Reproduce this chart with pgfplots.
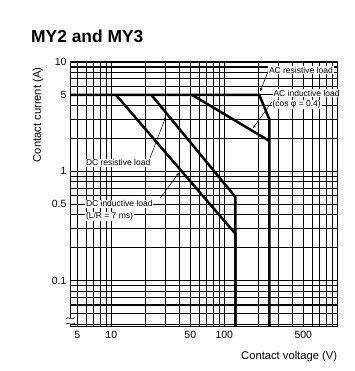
\documentclass[border=0pt]{standalone}
\usepackage{fontspec}
\setmainfont{Liberation Sans}
\usepackage{pgfplots}
\pgfplotsset{compat=1.18}
\usetikzlibrary{arrows.meta}

\begin{document}
\begin{tikzpicture}[x=1pt,y=1pt]
\path[use as bounding box] (0,0) rectangle (354,371);
\begin{axis}[
  at={(70.7pt,44.3pt)}, anchor=south west,
  scale only axis, width=266.6pt, height=264.7pt,
  xmode=log, ymode=log,
  xmin=4.37, xmax=1000, ymin=0.038, ymax=10,
  xtick={5,10,50,100,500}, xticklabels={5,10,50,100,500},
  ytick={0.1,0.5,1,5,10}, yticklabels={0.1,0.5,1,5,10},
  minor xtick={6,7,8,9,20,30,40,60,70,80,90,200,300,400,600,700,800,900},
  minor ytick={0.04,0.05,0.06,0.07,0.08,0.09,0.2,0.3,0.4,0.6,0.7,0.8,0.9,2,3,4,6,7,8,9},
  grid=both,
  major grid style={black, line width=1.05pt},
  minor grid style={black, line width=1.05pt},
  axis line style={black, line width=1.2pt},
  major tick length=0pt, minor tick length=0pt,
  tick style={draw=none},
  tick label style={font=\fontsize{10.5}{12}\selectfont},
  xticklabel style={inner sep=0pt, yshift=-4pt, anchor=north},
  yticklabel style={inner sep=0pt, xshift=-4pt, anchor=east},
  xlabel={Contact voltage (V)},
  ylabel={Contact current (A)},
  label style={font=\fontsize{11.2}{13}\selectfont},
  xlabel style={at={(axis description cs:1,-0.1133)}, anchor=east, inner sep=0pt},
  ylabel style={at={(axis description cs:-0.1227,0.80)}, anchor=center, inner sep=0pt},
  clip=false,
]
% AC resistive load (includes the 5 A line from the left edge)
\addplot[black, line width=2.5pt, line join=miter] coordinates {(4.37,5) (204,5) (250,3) (250,0.038)};
% AC inductive load (cos phi = 0.4)
\addplot[black, line width=2.5pt] coordinates {(51.8,5) (250,1.9)};
% DC resistive load
\addplot[black, line width=2.5pt, line join=miter] coordinates {(22.6,5) (125,0.585) (125,0.038)};
% DC inductive load (L/R = 7 ms)
\addplot[black, line width=2.5pt, line join=miter] coordinates {(11,5) (125,0.27) (125,0.038)};

\coordinate (tACR) at (axis cs:207,5.35);
\coordinate (tACI) at (axis cs:178,2.45);
\coordinate (tDCR) at (axis cs:30.5,3.2);
\coordinate (tDCI) at (axis cs:40,0.98);
\end{axis}

% axis break symbol
\fill[white] (66.5,47) rectangle (75,53);
\draw[line width=0.6pt] (66,52.5) .. controls (68.5,55) and (71,50) .. (75,53.5);
\draw[line width=0.6pt] (66,47) .. controls (68.5,49.5) and (71,44.5) .. (75,48);

% annotation arrows
\begin{scope}[line width=0.5pt, -{Latex[length=3.5pt,width=2.4pt]}]
\draw (268.3,300) -- (tACR);
\draw (272,269.3) -- (tACI);
\draw (150,213) -- (tDCR);
\draw (160,172.7) -- (tDCI);
\end{scope}

% annotation labels
\begin{scope}[every node/.style={fill=white, inner sep=0.8pt, anchor=west, font=\fontsize{8.5}{10}\selectfont}]
\node at (268,301) {AC resistive load};
\node at (272.5,277.7) {AC inductive load};
\node at (271.5,266.5) {(cos φ = 0.4)};
\node at (85,208.3) {DC resistive load};
\node at (85,167.3) {DC inductive load};
\node at (85,154.7) {(L/R = 7 ms)};
\end{scope}

% title
\node[anchor=base west, inner sep=0pt, font=\fontsize{17.4}{20}\selectfont\bfseries] at (31,328.3) {MY2 and MY3};
\end{tikzpicture}
\end{document}
